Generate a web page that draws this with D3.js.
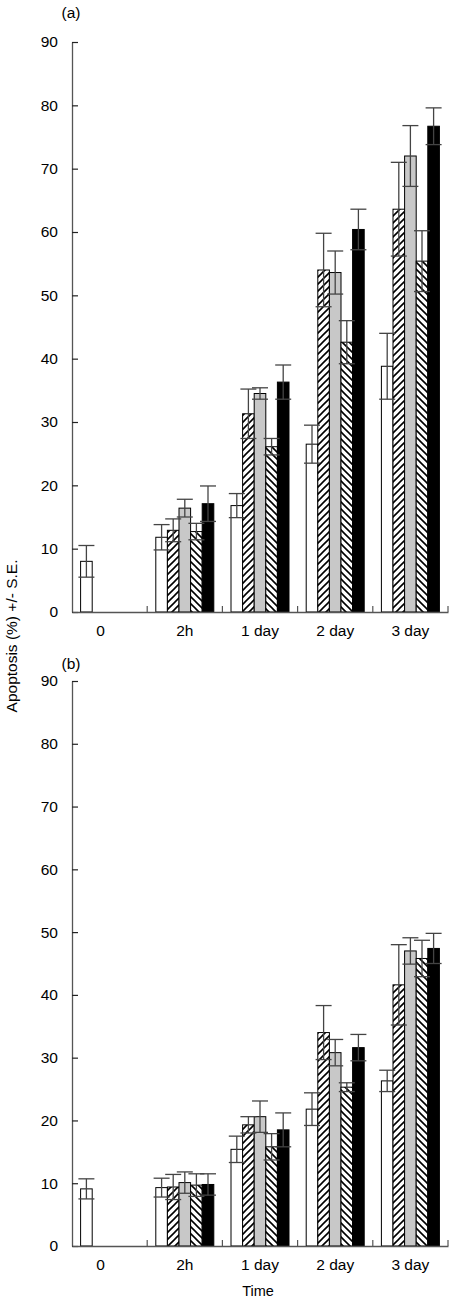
<!DOCTYPE html>
<html>
<head>
<meta charset="utf-8">
<script src="https://cdn.jsdelivr.net/npm/d3@7"></script>
<style>
  html, body { margin: 0; padding: 0; background: #fff; }
  svg { display: block; }
  text { font-family: "Liberation Sans", Arial, Helvetica, sans-serif; fill: #000; }
</style>
</head>
<body>
<svg id="chart" width="450" height="1300"></svg>
<script>
// ---- data ----
const timeLabels = ["0", "2h", "1 day", "2 day", "3 day"];
const seriesNames = ["Series 1", "Series 2", "Series 3", "Series 4", "Series 5"];
const yTicks = [0, 10, 20, 30, 40, 50, 60, 70, 80, 90];

// panel (a)
const aS1 = [8.0, 11.8, 16.8, 26.5, 38.8];
const aS1Err = [2.5, 2.0, 1.9, 3.0, 5.2];
const aS2 = [null, 12.9, 31.3, 54.0, 63.6];
const aS2Err = [null, 1.8, 3.9, 5.8, 7.4];
const aS3 = [null, 16.4, 34.5, 53.6, 72.0];
const aS3Err = [null, 1.4, 0.9, 3.4, 4.8];
const aS4 = [null, 12.7, 26.1, 42.6, 55.4];
const aS4Err = [null, 1.3, 1.3, 3.4, 4.8];
const aS5 = [null, 17.1, 36.3, 60.4, 76.7];
const aS5Err = [null, 2.8, 2.7, 3.2, 2.9];

// panel (b)
const bS1 = [9.1, 9.3, 15.4, 21.8, 26.3];
const bS1Err = [1.6, 1.5, 2.1, 2.6, 1.7];
const bS2 = [null, 9.4, 19.3, 34.0, 41.6];
const bS2Err = [null, 2.0, 1.3, 4.3, 6.4];
const bS3 = [null, 10.1, 20.6, 30.8, 47.0];
const bS3Err = [null, 1.7, 2.5, 2.1, 2.1];
const bS4 = [null, 9.7, 15.8, 25.3, 45.8];
const bS4Err = [null, 1.8, 2.1, 0.7, 2.9];
const bS5 = [null, 9.8, 18.5, 31.6, 47.4];
const bS5Err = [null, 1.7, 2.7, 2.1, 2.4];

const panels = [
  { label: "(a)", values: [aS1, aS2, aS3, aS4, aS5], errs: [aS1Err, aS2Err, aS3Err, aS4Err, aS5Err] },
  { label: "(b)", values: [bS1, bS2, bS3, bS4, bS5], errs: [bS1Err, bS2Err, bS3Err, bS4Err, bS5Err] }
];

// ---- layout ----
const svg = d3.select("#chart");
const FONT = 15.5;
const xLeft = 72, xRight = 448;
const panelRanges = [[612, 42], [1246, 681]];
const axisColor = "#555";
const errColor = "#444";

// patterns
const defs = svg.append("defs");
const fwd = defs.append("pattern").attr("id", "hatchF").attr("patternUnits", "userSpaceOnUse")
  .attr("width", 7).attr("height", 7);
fwd.append("rect").attr("width", 7).attr("height", 7).attr("fill", "#fff");
fwd.append("path").attr("d", "M0,7 L7,0 M-2,2 L2,-2 M5,9 L9,5")
  .attr("stroke", "#000").attr("stroke-width", 1.6);
const back = defs.append("pattern").attr("id", "hatchB").attr("patternUnits", "userSpaceOnUse")
  .attr("width", 7).attr("height", 7);
back.append("rect").attr("width", 7).attr("height", 7).attr("fill", "#fff");
back.append("path").attr("d", "M0,0 L7,7 M-2,5 L2,9 M5,-2 L9,2")
  .attr("stroke", "#000").attr("stroke-width", 1.6);

const fills = ["#fff", "url(#hatchF)", "#c8c8c8", "url(#hatchB)", "#000"];

const x0 = d3.scaleBand().domain(timeLabels).range([xLeft, xRight]).padding(0);
const x1 = d3.scaleBand().domain(seriesNames).range([8.6, x0.bandwidth() - 8.6]).padding(0);

panels.forEach((p, pi) => {
  const y = d3.scaleLinear().domain([0, 90]).range(panelRanges[pi]);
  const g = svg.append("g");

  const rows = [];
  timeLabels.forEach((t, ti) => {
    seriesNames.forEach((s, si) => {
      const v = p.values[si][ti];
      if (v !== null) rows.push({ t, s, si, v, e: p.errs[si][ti] });
    });
  });

  g.selectAll("rect.bar").data(rows).join("rect")
    .attr("class", "bar")
    .attr("x", d => x0(d.t) + x1(d.s))
    .attr("width", x1.bandwidth())
    .attr("y", d => y(d.v))
    .attr("height", d => y(0) - y(d.v))
    .attr("fill", d => fills[d.si])
    .attr("stroke", "#000")
    .attr("stroke-width", 1);

  const eg = g.selectAll("g.err").data(rows).join("g").attr("class", "err")
    .attr("stroke", errColor).attr("stroke-width", 1.3);
  eg.append("line")
    .attr("x1", d => x0(d.t) + x1(d.s) + x1.bandwidth() / 2)
    .attr("x2", d => x0(d.t) + x1(d.s) + x1.bandwidth() / 2)
    .attr("y1", d => y(d.v + d.e)).attr("y2", d => y(d.v - d.e));
  [1, -1].forEach(sign => {
    eg.append("line")
      .attr("x1", d => x0(d.t) + x1(d.s) + x1.bandwidth() / 2 - 8)
      .attr("x2", d => x0(d.t) + x1(d.s) + x1.bandwidth() / 2 + 8)
      .attr("y1", d => y(d.v + sign * d.e)).attr("y2", d => y(d.v + sign * d.e));
  });

  const ya = g.append("g").attr("transform", `translate(${xLeft},0)`)
    .call(d3.axisLeft(y).tickValues(yTicks).tickSizeInner(-6).tickSizeOuter(0).tickPadding(14));
  ya.select(".domain").attr("stroke", axisColor).attr("stroke-width", 1.3);
  ya.selectAll(".tick line").attr("stroke", "#222").attr("stroke-width", 1.2);
  ya.selectAll(".tick text").attr("font-size", FONT).attr("font-family", "Liberation Sans, Arial, sans-serif").attr("fill", "#000");

  const xa = g.append("g").attr("transform", `translate(0,${y(0)})`)
    .call(d3.axisBottom(x0).tickSize(0).tickPadding(13));
  xa.select(".domain").attr("stroke", axisColor).attr("stroke-width", 1.3);
  xa.selectAll(".tick text").attr("font-size", FONT).attr("font-family", "Liberation Sans, Arial, sans-serif").attr("fill", "#000")
    .attr("dx", (d, i) => i === 0 ? -9 : 0);

  g.append("g").selectAll("line").data(timeLabels).join("line")
    .attr("x1", d => x0(d) + x0.bandwidth()).attr("x2", d => x0(d) + x0.bandwidth())
    .attr("y1", y(0)).attr("y2", y(0) - 6)
    .attr("stroke", axisColor).attr("stroke-width", 1.2);

  svg.append("text").attr("x", 71).attr("y", pi === 0 ? 18 : 669)
    .attr("text-anchor", "middle").attr("font-size", FONT).text(p.label);
});

svg.append("text").attr("transform", "translate(17,636) rotate(-90)")
  .attr("text-anchor", "middle").attr("font-size", 15.5).text("Apoptosis (%) +/- S.E.");
svg.append("text").attr("x", 258).attr("y", 1296)
  .attr("text-anchor", "middle").attr("font-size", 14.5).text("Time");
</script>
</body>
</html>
